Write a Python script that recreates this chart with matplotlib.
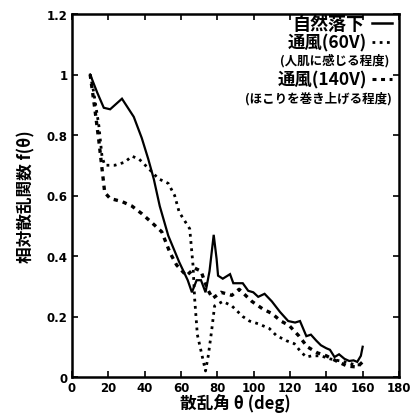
import matplotlib
matplotlib.use("Agg")
import matplotlib.pyplot as plt

plt.rcParams['font.family'] = ['Noto Sans CJK JP', 'DejaVu Sans']

# 自然落下
th_free = [10, 13.9, 17.5, 21, 27.5, 34, 38.4, 42, 45, 48.3, 53, 59, 63.7, 66, 68.6, 71, 73.5, 75.7, 78,
           79.6, 80.4, 83, 87, 88.8, 91.5, 94, 97, 99.8, 102.5, 106, 110, 114.5, 119, 122.8, 125.5, 129,
           131.5, 134.5, 137, 140, 142, 144.5, 147, 150, 152.6, 155, 157, 159, 160]
v_free = [1.0, 0.94, 0.89, 0.885, 0.92, 0.86, 0.79, 0.72, 0.655, 0.565, 0.467, 0.38, 0.32, 0.28, 0.32, 0.32,
          0.28, 0.35, 0.47, 0.39, 0.335, 0.325, 0.34, 0.31, 0.31, 0.31, 0.285, 0.28, 0.265, 0.275, 0.25,
          0.215, 0.185, 0.18, 0.185, 0.135, 0.14, 0.12, 0.105, 0.095, 0.09, 0.066, 0.075, 0.06, 0.053,
          0.055, 0.05, 0.07, 0.10]

# 通風(60V)
th_60 = [10, 12, 14.8, 16.5, 18, 23.6, 29, 33, 37, 42, 47.7, 53, 56.5, 59, 64.8, 66.6, 67.5, 69, 72, 73.5,
         75, 76.8, 78.5, 83, 88, 94, 97.7, 103, 108.7, 112.5, 118, 122.4, 126, 129, 132, 137, 142, 150, 156, 160]
v_60 = [1.0, 0.94, 0.83, 0.73, 0.70, 0.70, 0.71, 0.73, 0.72, 0.69, 0.655, 0.64, 0.60, 0.545, 0.49, 0.37,
        0.26, 0.14, 0.06, 0.02, 0.07, 0.15, 0.235, 0.25, 0.235, 0.20, 0.185, 0.175, 0.16, 0.137, 0.12, 0.11,
        0.083, 0.066, 0.07, 0.07, 0.06, 0.05, 0.04, 0.04]

# 通風(140V)
th_140 = [10, 12.6, 14.8, 16.5, 18, 21, 27.5, 33, 38.4, 44, 49.4, 54, 57.6, 63, 67.5, 71, 74.6, 77.4, 82,
          88, 92, 99, 105, 110, 115, 119.6, 125, 129.5, 135, 140, 145.5, 151.5, 157, 160]
v_140 = [1.0, 0.885, 0.78, 0.69, 0.61, 0.59, 0.58, 0.565, 0.54, 0.51, 0.48, 0.41, 0.37, 0.335, 0.36, 0.35,
         0.29, 0.26, 0.28, 0.27, 0.29, 0.25, 0.225, 0.21, 0.185, 0.17, 0.135, 0.10, 0.08, 0.07, 0.053,
         0.036, 0.033, 0.05]

x_ticks = [0, 20, 40, 60, 80, 100, 120, 140, 160, 180]
y_ticks = [0, 0.2, 0.4, 0.6, 0.8, 1.0, 1.2]
y_labels = ["0", "0.2", "0.4", "0.6", "0.8", "1", "1.2"]

W, H = 416, 414
fig = plt.figure(figsize=(W / 100, H / 100), dpi=100)
ax = fig.add_axes([72 / W, 1 - 378 / H, (399 - 72) / W, (378 - 15) / H])

ax.plot(th_free, v_free, color="black", lw=1.6, solid_joinstyle="miter")
ax.plot(th_60, v_60, color="black", lw=2.0, linestyle=(0, (1, 1.6)))
ax.plot(th_140, v_140, color="black", lw=2.4, linestyle=(0, (1.3, 1.5)))

ax.set_xlim(0, 180)
ax.set_ylim(0, 1.2)
ax.set_xticks(x_ticks)
ax.set_yticks(y_ticks)
ax.set_yticklabels(y_labels)
ax.tick_params(direction="in", length=4, width=1.2, top=True, right=True, labelsize=8.5, pad=3)
for lab in ax.get_xticklabels() + ax.get_yticklabels():
    lab.set_fontweight("bold")
    lab.set_family("DejaVu Sans")
for s in ax.spines.values():
    s.set_linewidth(1.8)

ax.set_xlabel("散乱角 θ (deg)", fontsize=12, fontweight="bold", labelpad=-1)
ax.set_ylabel("相対散乱関数 f(θ)", fontsize=12, fontweight="bold", labelpad=8)


def ftxt(x, y, s, size, **kw):
    fig.text(x / W, 1 - y / H, s, fontsize=size, fontweight="bold", ha="right", va="center", **kw)


ftxt(364, 24, "自然落下", 13)
ftxt(367, 43, "通風(60V)", 12.5)
ftxt(389, 61, "(人肌に感じる程度)", 9)
ftxt(367, 80, "通風(140V)", 12.5)
ftxt(392, 99, "(ほこりを巻き上げる程度)", 9)

# 凡例の線
fig.add_artist(plt.Line2D([372 / W, 392 / W], [1 - 24 / H, 1 - 24 / H], color="black", lw=1.8))
fig.add_artist(plt.Line2D([372 / W, 392 / W], [1 - 43 / H, 1 - 43 / H], color="black", lw=2.0,
                          linestyle=(0, (1, 1.6))))
fig.add_artist(plt.Line2D([372 / W, 392 / W], [1 - 80 / H, 1 - 80 / H], color="black", lw=2.2,
                          linestyle=(0, (1.3, 1.5))))

fig.savefig("out.png", dpi=100)
